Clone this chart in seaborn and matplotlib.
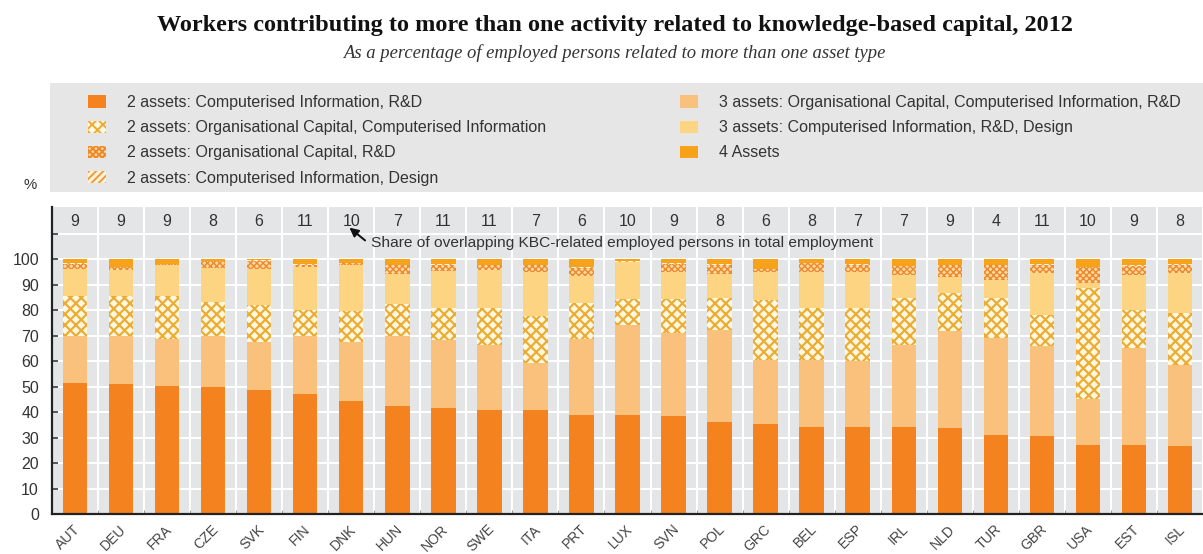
import numpy as np
import pandas as pd
import matplotlib
matplotlib.use("Agg")
import matplotlib.pyplot as plt
import matplotlib.patches as mpatches
import matplotlib.transforms as mtransforms
import seaborn as sns

# ---------------- data ----------------
countries = ["AUT", "DEU", "FRA", "CZE", "SVK", "FIN", "DNK", "HUN", "NOR", "SWE",
             "ITA", "PRT", "LUX", "SVN", "POL", "GRC", "BEL", "ESP", "IRL", "NLD",
             "TUR", "GBR", "USA", "EST", "ISL"]
share_overlap = [9, 9, 9, 8, 6, 11, 10, 7, 11, 11, 7, 6, 10, 9, 8, 6, 8, 7, 7, 9, 4, 11, 10, 9, 8]

ci_rd = [51.4, 51.0, 50.1, 49.7, 48.5, 47.1, 44.2, 42.2, 41.6, 40.9, 40.7, 39.0, 39.0,
         38.3, 35.9, 35.4, 34.0, 34.0, 34.0, 33.7, 31.1, 30.5, 26.9, 26.9, 26.8]
oc_ci_rd = [18.5, 18.9, 18.5, 20.0, 18.8, 22.6, 23.1, 27.5, 26.5, 25.5, 18.5, 29.6, 35.2,
            32.7, 36.4, 25.1, 26.3, 25.9, 32.4, 38.2, 37.9, 35.3, 18.2, 38.2, 31.5]
oc_ci = [15.5, 15.5, 16.8, 13.3, 14.8, 10.4, 12.2, 12.8, 12.7, 14.4, 18.6, 14.1, 10.1,
         13.3, 12.4, 23.6, 20.5, 20.9, 18.3, 14.8, 15.6, 12.4, 43.5, 15.0, 20.5]
ci_rd_design = [10.8, 10.4, 12.2, 13.3, 13.9, 16.7, 18.3, 11.5, 14.4, 14.8, 17.2, 10.5, 14.5,
                10.7, 9.6, 10.9, 14.2, 14.2, 9.2, 6.1, 7.2, 16.3, 2.0, 13.8, 15.7]
oc_rd = [1.8, 1.0, 0.4, 2.9, 3.3, 1.0, 0.6, 3.6, 2.6, 2.0, 2.6, 3.4, 0.2,
         3.2, 3.5, 1.0, 3.4, 2.8, 3.3, 4.8, 5.8, 3.3, 6.2, 3.4, 3.3]
ci_design = [0.3, 0.2, 0.2, 0.2, 0.2, 0.2, 0.2, 0.2, 0.2, 0.2, 0.2, 0.2, 0.2,
             0.2, 0.2, 0.2, 0.2, 0.2, 0.2, 0.2, 0.2, 0.2, 0.2, 0.2, 0.2]
four_assets = [1.7, 3.0, 1.8, 0.6, 0.5, 2.0, 1.4, 2.2, 2.0, 2.2, 2.2, 3.2, 0.8,
               1.6, 2.0, 3.8, 1.4, 2.0, 2.6, 2.2, 2.2, 2.0, 3.0, 2.5, 2.0]

lbl_ci_rd = "2 assets: Computerised Information, R&D"
lbl_oc_ci = "2 assets: Organisational Capital, Computerised Information"
lbl_oc_rd = "2 assets: Organisational Capital, R&D"
lbl_ci_design = "2 assets: Computerised Information, Design"
lbl_oc_ci_rd = "3 assets: Organisational Capital, Computerised Information, R&D"
lbl_ci_rd_design = "3 assets: Computerised Information, R&D, Design"
lbl_four = "4 Assets"

title = "Workers contributing to more than one activity related to knowledge-based capital, 2012"
subtitle = "As a percentage of employed persons related to more than one asset type"
note = "Share of overlapping KBC-related employed persons in total employment"

# ---------------- style ----------------
DPI = 130
W, H = 1203, 554
plt.rcParams["font.family"] = ["Liberation Sans Narrow", "Liberation Sans", "DejaVu Sans"]
plt.rcParams["hatch.linewidth"] = 1.1

px = 72.0 / DPI  # points per pixel

C_DARK = "#f4821f"
C_PEACH = "#f9c17b"
C_YEL = "#fdd482"
C_FOUR = "#f7a21b"
C_CROSS_FACE = "#fff7df"
C_CROSS_LINE = "#ebac33"
C_DENSE_FACE = "#fbd9a6"
C_DENSE_LINE = "#ee8a2a"
C_STRIPE_FACE = "#fff3dc"
C_STRIPE_LINE = "#f09a3a"

# (label, values, face, hatch colour, hatch, hatch lw) bottom -> top
layers = [
    (lbl_ci_rd, ci_rd, C_DARK, C_DARK, None, 1.0),
    (lbl_oc_ci_rd, oc_ci_rd, C_PEACH, C_PEACH, None, 1.0),
    (lbl_oc_ci, oc_ci, C_CROSS_FACE, C_CROSS_LINE, "xxxx", 1.2),
    (lbl_ci_rd_design, ci_rd_design, C_YEL, C_YEL, None, 1.0),
    (lbl_oc_rd, oc_rd, C_DENSE_FACE, C_DENSE_LINE, "xxxxxxx", 0.8),
    (lbl_ci_design, ci_design, C_STRIPE_FACE, C_STRIPE_LINE, "//////", 0.9),
    (lbl_four, four_assets, C_FOUR, C_FOUR, None, 1.0),
]

fig = plt.figure(figsize=(W / DPI, H / DPI), dpi=DPI)
fig.patch.set_facecolor("white")

# legend background
fig.patches.append(mpatches.Rectangle((50 / W, 1 - 192 / H), 1.0, (192 - 83) / H,
                                      transform=fig.transFigure, facecolor="#e6e6e7",
                                      edgecolor="none", zorder=0))

ax = fig.add_axes([52 / W, 1 - 514 / H, 1 - 52 / W, (514 - 207) / H])
ax.set_facecolor("#e4e5e7")
ax.set_axisbelow(True)

vals = np.array([l[1] for l in layers])
cum = np.cumsum(vals, axis=0)


def style_patch(p, hatch, hc, hlw):
    p.set_linewidth(0)
    p.set_edgecolor(hc)
    if hatch:
        p.set_hatch(hatch)
        if hasattr(p, "set_hatch_linewidth"):
            p.set_hatch_linewidth(hlw)


for k in reversed(range(len(layers))):
    label, v, face, hc, hatch, hlw = layers[k]
    df = pd.DataFrame({"country": countries, "value": cum[k]})
    sns.barplot(data=df, x="country", y="value", order=countries, color=face,
                saturation=1, width=0.53, errorbar=None, ax=ax, linewidth=0)
    for p in ax.containers[-1]:
        style_patch(p, hatch, hc, hlw)

# axes formatting
ax.set_xlim(-0.5, 24.41)
ax.set_ylim(0, 120.4)
ax.set_xlabel("")
ax.set_ylabel("")
ax.set_yticks(np.arange(0, 120, 10))
ax.set_yticklabels([str(int(t)) if t <= 100 else "" for t in np.arange(0, 120, 10)])
ax.set_xticks(range(len(countries)))
ax.set_xticklabels(countries, rotation=45, ha="right", rotation_mode="anchor")
ax.set_xticks(np.arange(0.5, len(countries), 1.0), minor=True)

ax.tick_params(axis="y", direction="in", length=6 * px, width=1.5 * px, color="#222222",
               labelsize=16 * px, labelcolor="#333333", pad=13 * px)
ax.tick_params(axis="x", which="major", length=0, labelsize=14 * px, labelcolor="#444444",
               pad=8 * px)
ax.tick_params(axis="x", which="minor", direction="in", length=4 * px, width=1 * px,
               color="#999999")
ax.tick_params(axis="y", which="minor", length=0)

offset = mtransforms.ScaledTranslation(-2 / DPI, 0, fig.dpi_scale_trans)
for lab in ax.get_xticklabels():
    lab.set_transform(lab.get_transform() + offset)

ax.grid(axis="y", which="major", color="white", linewidth=2 * px)
ax.grid(axis="x", which="minor", color="white", linewidth=2 * px)
ax.grid(axis="x", which="major", visible=False)

for s in ["top", "right"]:
    ax.spines[s].set_visible(False)
for s in ["left", "bottom"]:
    ax.spines[s].set_color("#222222")
    ax.spines[s].set_linewidth(2.2 * px)

# share numbers strip
for i, n in enumerate(share_overlap):
    ax.text(i, 114.8, str(n), ha="center", va="center", fontsize=16 * px, color="#333333")

# annotation arrow + note
ax.annotate("", xy=(5.96, 112.3), xytext=(6.3, 107.3),
            arrowprops=dict(arrowstyle="-|>", color="#111111", lw=2 * px,
                            mutation_scale=10, shrinkA=0, shrinkB=0))
ax.text(6.43, 106.3, note, ha="left", va="center", fontsize=15.5 * px, color="#333333")

# titles
fig.text(615 / W, 1 - 25 / H, title, ha="center", va="center", fontsize=24.3 * px,
         fontweight="bold", family=["Liberation Serif", "DejaVu Serif"], color="#111111")
fig.text(614 / W, 1 - 53 / H, subtitle, ha="center", va="center", fontsize=18.6 * px,
         style="italic", family=["Liberation Serif", "DejaVu Serif"], color="#333333")
fig.text(30 / W, 1 - 185 / H, "%", ha="center", va="center", fontsize=15 * px,
         color="#333333")

# legend
def handle(layer):
    label, v, face, hc, hatch, hlw = layer
    p = mpatches.Patch(facecolor=face, edgecolor=hc, linewidth=0, hatch=hatch, label=label)
    if hatch and hasattr(p, "set_hatch_linewidth"):
        p.set_hatch_linewidth(hlw)
    return p


col1 = [layers[0], layers[2], layers[4], layers[5]]
col2 = [layers[1], layers[3], layers[6]]
leg_kw = dict(frameon=False, fontsize=16 * px, handlelength=1.15, handleheight=0.8,
              handletextpad=1.3, labelspacing=0.64, borderpad=0, borderaxespad=0,
              loc="upper left", labelcolor="#333333")
leg1 = fig.legend(handles=[handle(l) for l in col1], labels=[l[0] for l in col1],
                  bbox_to_anchor=(88 / W, 1 - 95 / H), **leg_kw)
leg2 = fig.legend(handles=[handle(l) for l in col2], labels=[l[0] for l in col2],
                  bbox_to_anchor=(680 / W, 1 - 95 / H), **leg_kw)

fig.savefig("out.png", dpi=DPI)
